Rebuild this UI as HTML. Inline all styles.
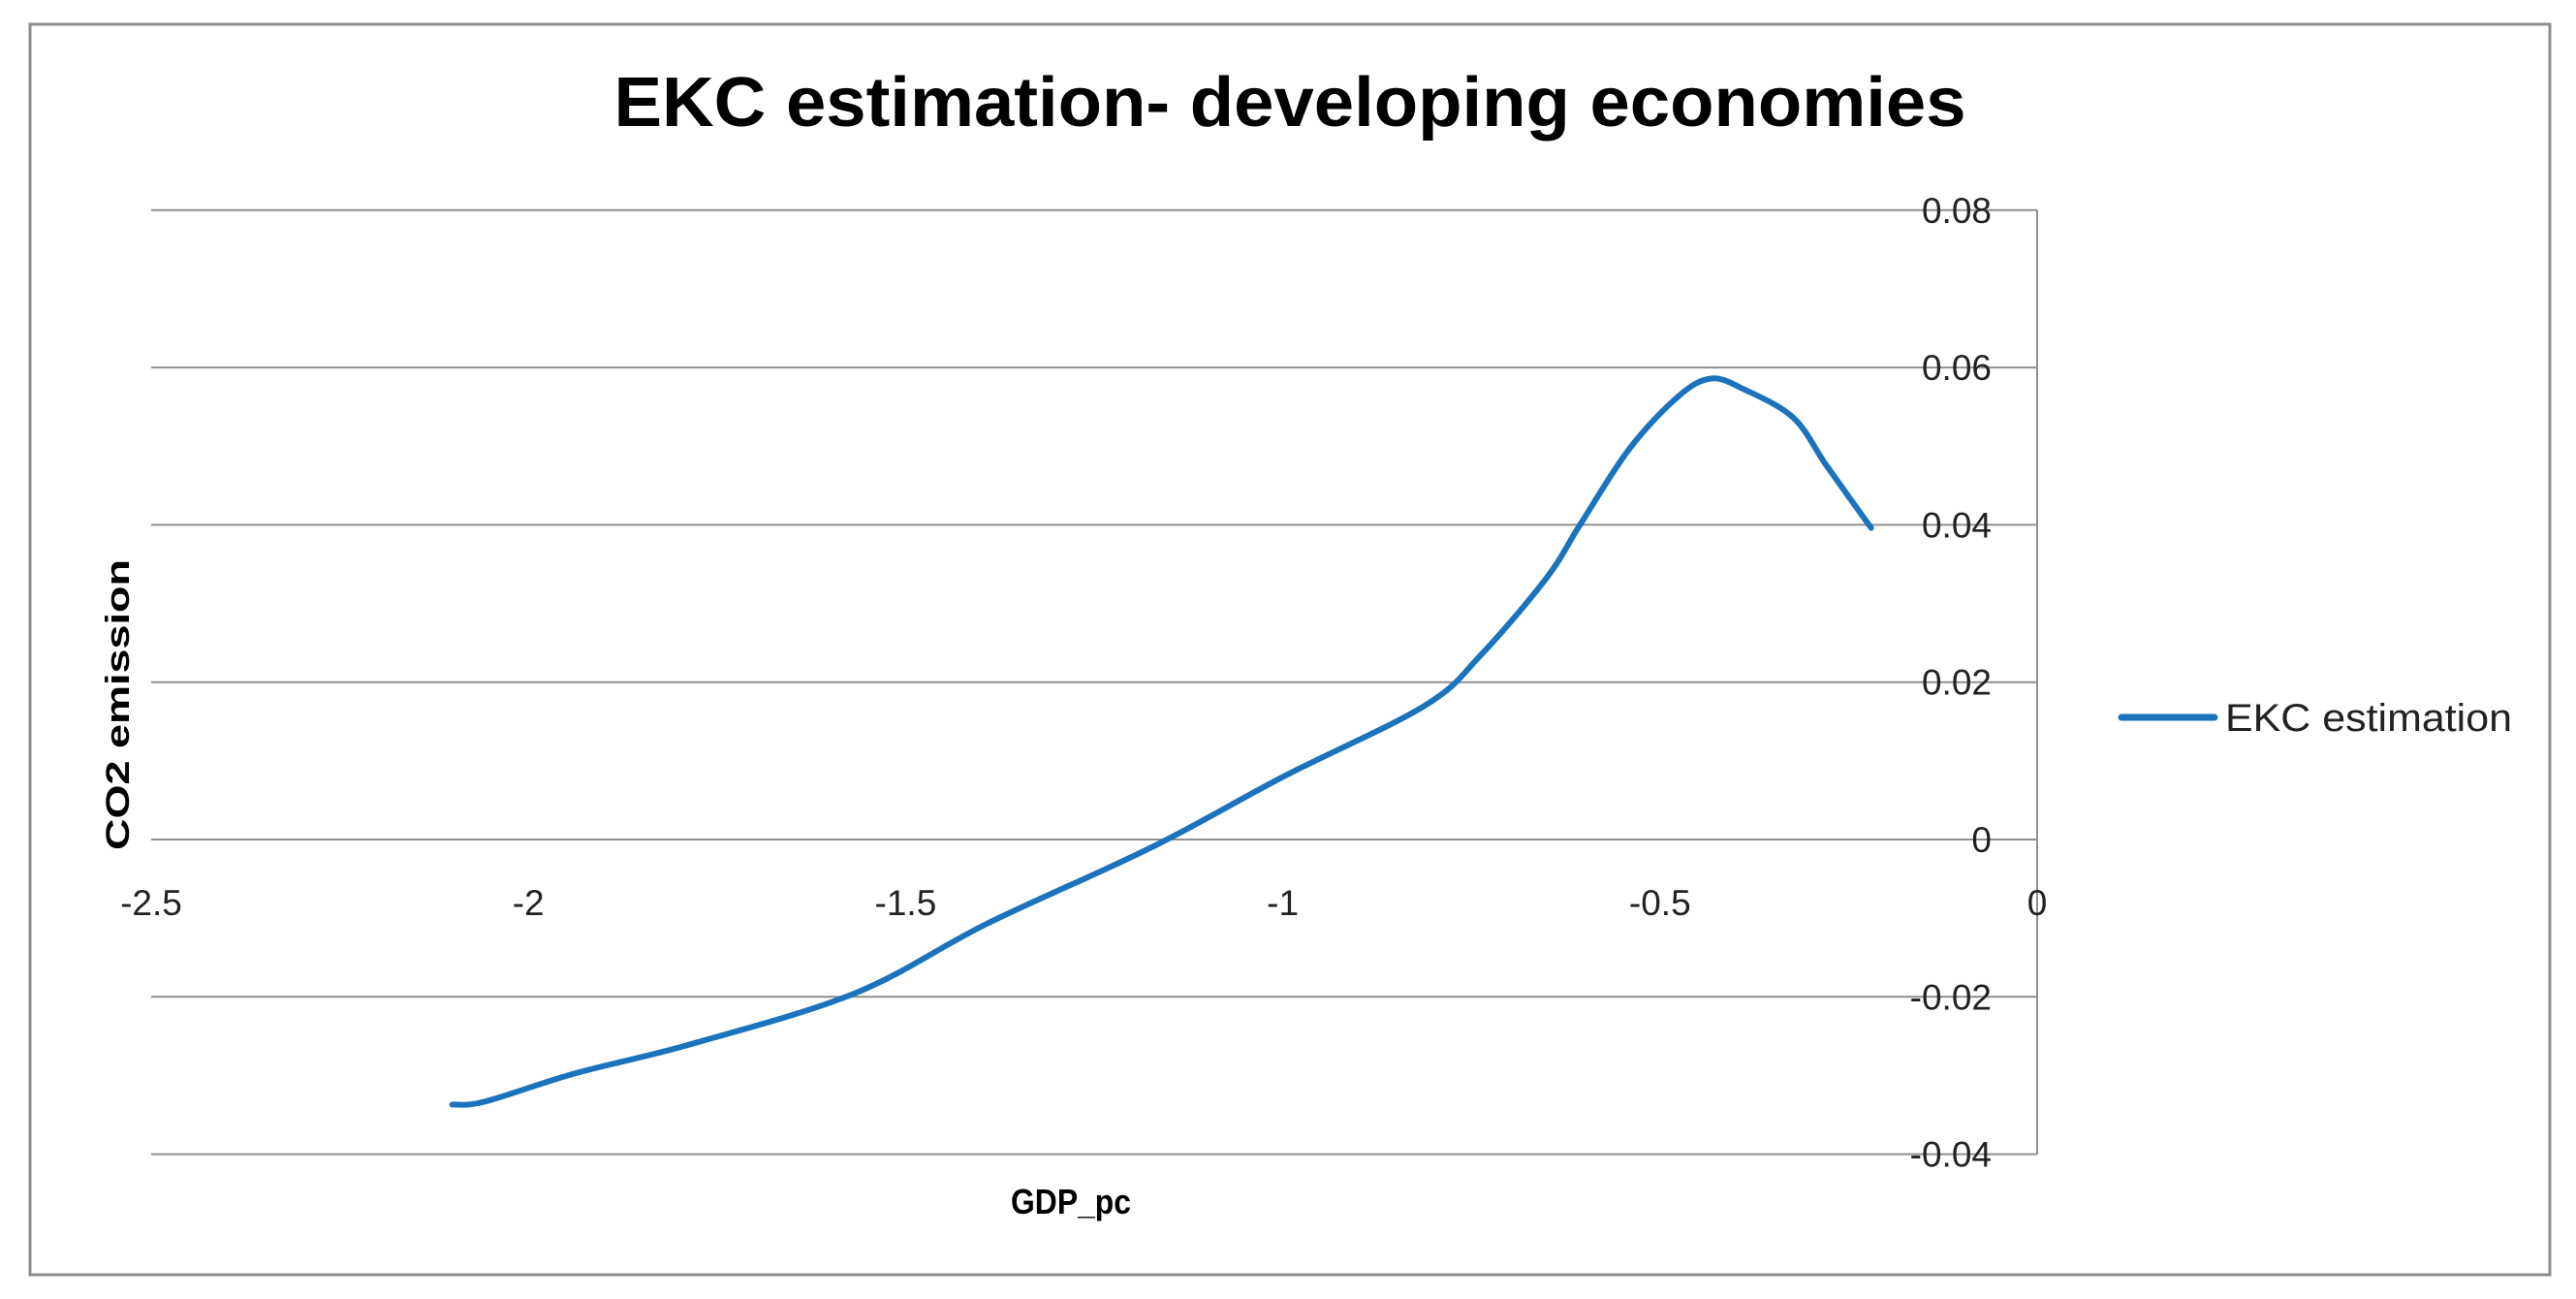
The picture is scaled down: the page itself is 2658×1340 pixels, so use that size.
<!DOCTYPE html>
<html><head><meta charset="utf-8"><style>
html,body{margin:0;padding:0;background:#fff;}
svg{display:block;font-family:"Liberation Sans",sans-serif;}
</style></head><body>
<svg id="chart" width="2658" height="1340" viewBox="0 0 2658 1340">
<rect x="31" y="25" width="2600" height="1290" fill="#fff" stroke="#8c8c8c" stroke-width="3"/>
<text x="1331" y="130" text-anchor="middle" font-size="72" font-weight="bold" textLength="1395" lengthAdjust="spacingAndGlyphs" fill="#000">EKC estimation- developing economies</text>
<g id="grid"></g>
<g id="yticks"></g>
<g id="xticks"></g>
<path id="series" fill="none" stroke="#1a73bc" stroke-width="6" stroke-linecap="round" stroke-linejoin="round"/>
<text transform="translate(133,727) rotate(-90)" text-anchor="middle" font-size="34" font-weight="bold" textLength="300" lengthAdjust="spacingAndGlyphs">CO2 emission</text>
<text x="1105" y="1252" text-anchor="middle" font-size="36" font-weight="bold" textLength="124" lengthAdjust="spacingAndGlyphs">GDP_pc</text>
<line x1="2189" y1="740" x2="2285" y2="740" stroke="#1a73bc" stroke-width="7" stroke-linecap="round"/>
<text x="2296" y="754" font-size="40" textLength="296" lengthAdjust="spacingAndGlyphs" fill="#222">EKC estimation</text>
</svg>
<script>
const xValues = [-2.101,-2.057,-1.937,-1.784,-1.566,-1.392,-1.174,-0.999,-0.812,-0.737,-0.650,-0.606,-0.541,-0.476,-0.432,-0.388,-0.323,-0.279,-0.220];
const yValues = [-0.0337,-0.0333,-0.0297,-0.0260,-0.0195,-0.0107,-0.0010,0.0080,0.0170,0.0235,0.0333,0.0400,0.0496,0.0563,0.0586,0.0572,0.0536,0.0475,0.0396];
const yTicks = [-0.04,-0.02,0,0.02,0.04,0.06,0.08];
const yTickLabels = ["-0.04","-0.02","0","0.02","0.04","0.06","0.08"];
const xTicks = [-2.5,-2,-1.5,-1,-0.5,0];
const xTickLabels = ["-2.5","-2","-1.5","-1","-0.5","0"];

const NS="http://www.w3.org/2000/svg";
const X0=156, X1=2102, Y0=866, YPER=162.3/0.02;
function sx(v){return X0+(v-(-2.5))/2.5*(X1-X0);}
function sy(v){return Y0-v*YPER;}
function mk(tag,attrs,parent){const e=document.createElementNS(NS,tag);for(const k in attrs)e.setAttribute(k,attrs[k]);parent.appendChild(e);return e;}

const grid=document.getElementById('grid'), yt=document.getElementById('yticks'), xt=document.getElementById('xticks');
yTicks.forEach((v,i)=>{
  const l=mk('line',{x1:sx(-2.5),x2:sx(0),y1:sy(v),y2:sy(v),stroke:'#8f8f8f','stroke-width':2},grid);
  
  
  const t=mk('text',{x:2055,y:sy(v)+13,'text-anchor':'end','font-size':37,fill:'#222'},yt);
  t.textContent=yTickLabels[i];
  
  
});
const ax=mk('line',{x1:sx(0),x2:sx(0),y1:sy(0.08),y2:sy(-0.04),stroke:'#8f8f8f','stroke-width':2},grid);


xTicks.forEach((v,i)=>{
  const t=mk('text',{x:sx(v),y:944,'text-anchor':'middle','font-size':37,fill:'#222'},xt);
  t.textContent=xTickLabels[i];
  
  
});
// Catmull-Rom smooth path
const pts=xValues.map((x,i)=>[sx(x),sy(yValues[i])]);
let d='M'+pts[0][0]+','+pts[0][1];
for(let i=0;i<pts.length-1;i++){
  const p0=pts[i-1]||pts[i],p1=pts[i],p2=pts[i+1],p3=pts[i+2]||p2;
  const c1=[p1[0]+(p2[0]-p0[0])/6,p1[1]+(p2[1]-p0[1])/6];
  const c2=[p2[0]-(p3[0]-p1[0])/6,p2[1]-(p3[1]-p1[1])/6];
  d+=' C'+c1+' '+c2+' '+p2;
}
document.getElementById('series').setAttribute('d',d);
</script>
</body></html>
